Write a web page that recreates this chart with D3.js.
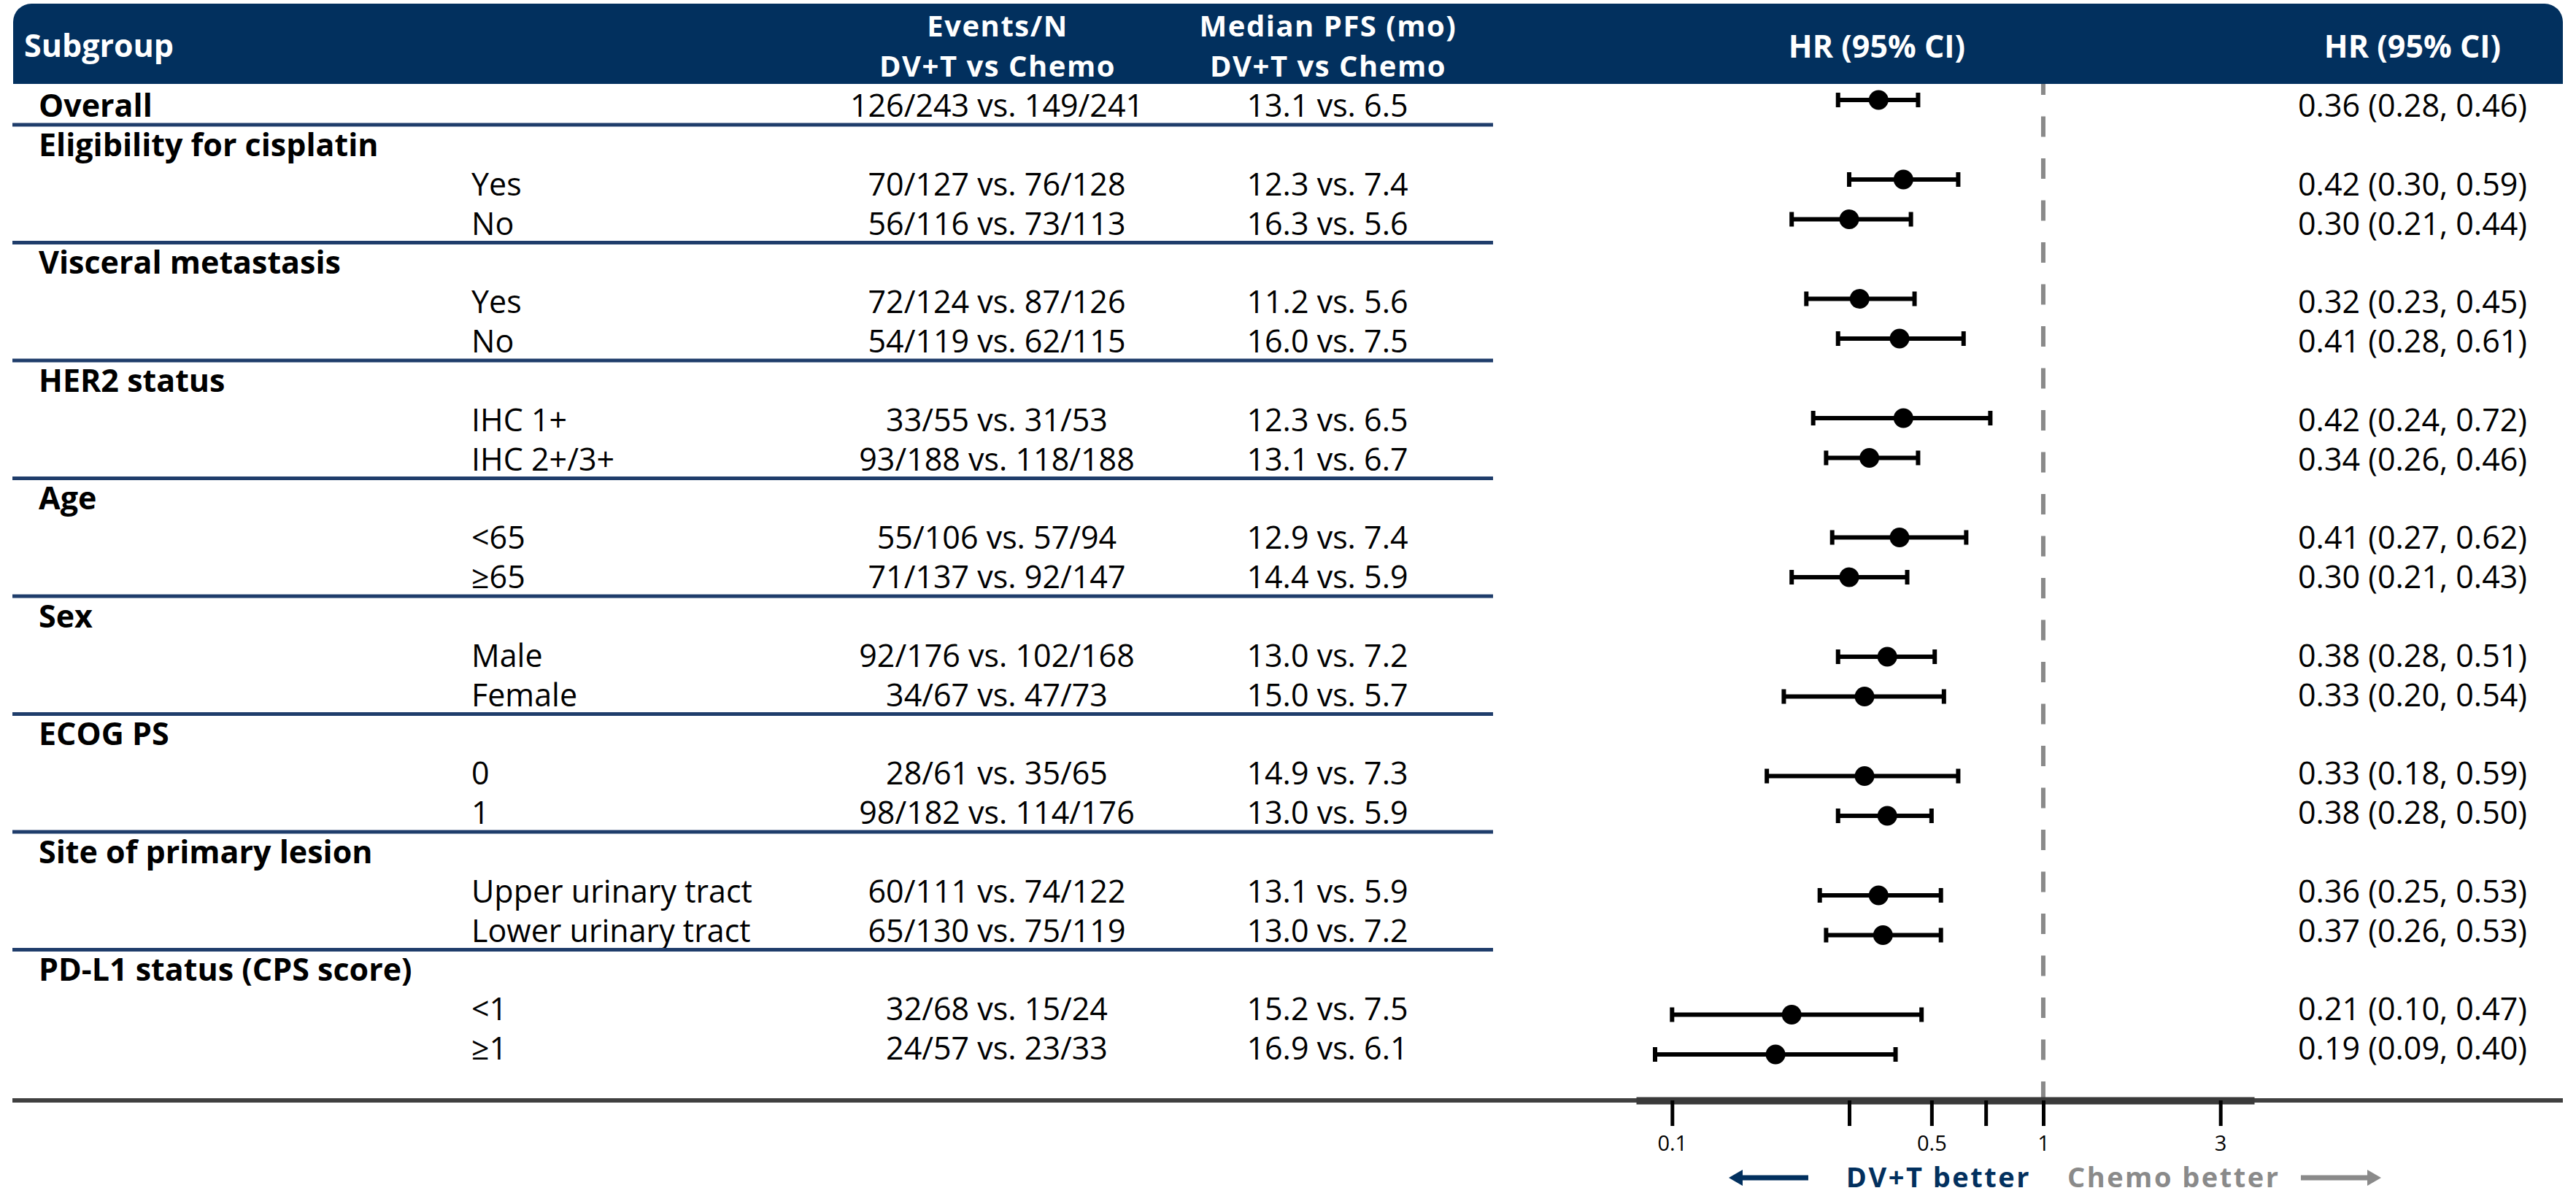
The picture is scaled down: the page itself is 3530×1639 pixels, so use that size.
<!DOCTYPE html>
<html lang="en">
<head>
    <meta charset="UTF-8">
    <title>PFS subgroup forest plot</title>
    <style>
        body {
            margin: 0;
            background: #fff;
        }
        svg text {
            font-family: "Open Sans", "Noto Sans", sans-serif;
        }
        .hdr {
            fill: #fff;
            font-weight: 700;
            font-size: 43px;
        }
        .hdr2 {
            font-size: 40px;
            letter-spacing: 1.5px;
        }
        .cell {
            fill: #000;
            font-size: 43px;
        }
        .grp {
            font-weight: 700;
        }
        .tick text {
            font-size: 29px;
        }
    </style>
</head>
<body>
    <svg id="chart" width="3530" height="1639"></svg>

    <script src="https://d3js.org/d3.v7.min.js"></script>
    <script>
        // rows top to bottom; "g" = group heading, "s" = subgroup
        const labels = ["Overall", "Eligibility for cisplatin", "Yes", "No", "Visceral metastasis", "Yes", "No",
            "HER2 status", "IHC 1+", "IHC 2+/3+", "Age", "<65", "≥65", "Sex", "Male", "Female",
            "ECOG PS", "0", "1", "Site of primary lesion", "Upper urinary tract", "Lower urinary tract",
            "PD-L1 status (CPS score)", "<1", "≥1"];
        const rowType = ["g", "g", "s", "s", "g", "s", "s", "g", "s", "s", "g", "s", "s", "g", "s", "s",
            "g", "s", "s", "g", "s", "s", "g", "s", "s"];
        const events = ["126/243 vs. 149/241", "", "70/127 vs. 76/128", "56/116 vs. 73/113", "",
            "72/124 vs. 87/126", "54/119 vs. 62/115", "", "33/55 vs. 31/53", "93/188 vs. 118/188", "",
            "55/106 vs. 57/94", "71/137 vs. 92/147", "", "92/176 vs. 102/168", "34/67 vs. 47/73", "",
            "28/61 vs. 35/65", "98/182 vs. 114/176", "", "60/111 vs. 74/122", "65/130 vs. 75/119", "",
            "32/68 vs. 15/24", "24/57 vs. 23/33"];
        const medianPFS = ["13.1 vs. 6.5", "", "12.3 vs. 7.4", "16.3 vs. 5.6", "", "11.2 vs. 5.6", "16.0 vs. 7.5", "",
            "12.3 vs. 6.5", "13.1 vs. 6.7", "", "12.9 vs. 7.4", "14.4 vs. 5.9", "", "13.0 vs. 7.2", "15.0 vs. 5.7", "",
            "14.9 vs. 7.3", "13.0 vs. 5.9", "", "13.1 vs. 5.9", "13.0 vs. 7.2", "", "15.2 vs. 7.5", "16.9 vs. 6.1"];
        const hr = [0.36, null, 0.42, 0.30, null, 0.32, 0.41, null, 0.42, 0.34, null, 0.41, 0.30, null, 0.38, 0.33,
            null, 0.33, 0.38, null, 0.36, 0.37, null, 0.21, 0.19];
        const hrLow = [0.28, null, 0.30, 0.21, null, 0.23, 0.28, null, 0.24, 0.26, null, 0.27, 0.21, null, 0.28, 0.20,
            null, 0.18, 0.28, null, 0.25, 0.26, null, 0.10, 0.09];
        const hrHigh = [0.46, null, 0.59, 0.44, null, 0.45, 0.61, null, 0.72, 0.46, null, 0.62, 0.43, null, 0.51, 0.54,
            null, 0.59, 0.50, null, 0.53, 0.53, null, 0.47, 0.40];
        // last row of each block, a rule is drawn under it
        const ruleAfter = [0, 3, 6, 9, 12, 15, 18, 21];
        const tickVals = [0.1, 0.3, 0.5, 0.7, 1, 3];
        const tickLabels = [0.1, 0.5, 1, 3];

        const navy = "#02305e";
        const grey = "#8a8a8a";

        const svg = d3.select("#chart");
        const n = labels.length;
        const rows = d3.range(n);

        const x = d3.scaleLog().domain([0.08, 3.7]).range([2242, 3089]);
        const yBar = d3.scaleLinear().domain([0, n - 1]).range([137, 1445]);
        const yText = d3.scaleLinear().domain([0, n - 1]).range([160, 1452]);
        const axisY = 1508;

        // reference line at HR = 1 (header drawn later covers its top)
        svg.append("line")
            .attr("x1", x(1)).attr("x2", x(1))
            .attr("y1", 102).attr("y2", axisY)
            .attr("stroke", grey)
            .attr("stroke-width", 6)
            .attr("stroke-dasharray", "28 29.5");

        // header band, rounded on top only
        const hdr = svg.append("g");
        hdr.append("rect")
            .attr("x", 18).attr("y", 5).attr("width", 3494).attr("height", 110)
            .attr("rx", 25).attr("fill", navy);
        hdr.append("rect")
            .attr("x", 18).attr("y", 60).attr("width", 3494).attr("height", 55)
            .attr("fill", navy);

        hdr.append("text").attr("class", "hdr").attr("x", 33).attr("y", 78).text("Subgroup");
        [[1367, ["Events/N", "DV+T vs Chemo"]], [1820, ["Median PFS (mo)", "DV+T vs Chemo"]]].forEach(([cx, lines]) => {
            lines.forEach((s, i) => {
                hdr.append("text").attr("class", "hdr hdr2")
                    .attr("x", cx).attr("y", 50 + i * 55)
                    .attr("text-anchor", "middle").text(s);
            });
        });
        [2572, 3306].forEach(cx => {
            hdr.append("text").attr("class", "hdr")
                .attr("x", cx).attr("y", 79)
                .attr("text-anchor", "middle").text("HR (95% CI)");
        });

        // table text
        const body = svg.append("g");
        body.selectAll("text.lab")
            .data(rows)
            .join("text")
            .attr("class", i => "cell lab" + (rowType[i] === "g" ? " grp" : ""))
            .attr("x", i => rowType[i] === "g" ? 53 : 646)
            .attr("y", i => yText(i))
            .text(i => labels[i]);

        body.selectAll("text.ev")
            .data(rows.filter(i => events[i]))
            .join("text")
            .attr("class", "cell ev")
            .attr("x", 1366).attr("y", i => yText(i))
            .attr("text-anchor", "middle")
            .text(i => events[i]);

        body.selectAll("text.pfs")
            .data(rows.filter(i => medianPFS[i]))
            .join("text")
            .attr("class", "cell pfs")
            .attr("x", 1819).attr("y", i => yText(i))
            .attr("text-anchor", "middle")
            .text(i => medianPFS[i]);

        const fmt = d3.format(".2f");
        body.selectAll("text.hrt")
            .data(rows.filter(i => hr[i] != null))
            .join("text")
            .attr("class", "cell hrt")
            .attr("x", 3306).attr("y", i => yText(i))
            .attr("text-anchor", "middle")
            .text(i => `${fmt(hr[i])} (${fmt(hrLow[i])}, ${fmt(hrHigh[i])})`);

        // block rules
        svg.append("g").selectAll("line")
            .data(ruleAfter)
            .join("line")
            .attr("x1", 17).attr("x2", 2046)
            .attr("y1", i => yText(i) + 11).attr("y2", i => yText(i) + 11)
            .attr("stroke", "#1f3d6b")
            .attr("stroke-width", 5);

        // CI bars and points
        const est = rows.filter(i => hr[i] != null);
        const ci = svg.append("g");
        ci.selectAll("line.ci")
            .data(est)
            .join("line")
            .attr("class", "ci")
            .attr("x1", i => x(hrLow[i])).attr("x2", i => x(hrHigh[i]))
            .attr("y1", i => yBar(i)).attr("y2", i => yBar(i))
            .attr("stroke", "#000").attr("stroke-width", 6);
        ["lo", "hi"].forEach(k => {
            ci.selectAll("line.cap-" + k)
                .data(est)
                .join("line")
                .attr("class", "cap-" + k)
                .attr("x1", i => x(k === "lo" ? hrLow[i] : hrHigh[i]))
                .attr("x2", i => x(k === "lo" ? hrLow[i] : hrHigh[i]))
                .attr("y1", i => yBar(i) - 10).attr("y2", i => yBar(i) + 10)
                .attr("stroke", "#000").attr("stroke-width", 6);
        });
        ci.selectAll("circle")
            .data(est)
            .join("circle")
            .attr("cx", i => x(hr[i])).attr("cy", i => yBar(i))
            .attr("r", 13.5)
            .attr("fill", "#000");

        // bottom axis
        svg.append("line")
            .attr("x1", 17).attr("x2", 3512)
            .attr("y1", axisY).attr("y2", axisY)
            .attr("stroke", "#404040").attr("stroke-width", 6);

        const axis = svg.append("g")
            .attr("transform", `translate(0,${axisY})`)
            .call(d3.axisBottom(x)
                .tickValues(tickVals)
                .tickFormat(d => tickLabels.includes(d) ? d : "")
                .tickSize(35)
                .tickSizeOuter(0)
                .tickPadding(13));
        axis.select(".domain").attr("stroke", "#3a3a3a").attr("stroke-width", 10);
        axis.selectAll(".tick line").attr("stroke", "#000").attr("stroke-width", 5);
        axis.selectAll(".tick text").attr("fill", "#000");

        // direction labels with arrows
        const x1 = x(1);
        const dirY = 1627;
        const arrowY = 1614;
        const dir = svg.append("g")
            .attr("font-weight", 700).attr("font-size", 38)
            .attr("letter-spacing", 2.5);
        dir.append("text").attr("x", x1 - 17).attr("y", dirY)
            .attr("text-anchor", "end").attr("fill", navy).text("DV+T better");
        dir.append("text").attr("x", x1 + 33).attr("y", dirY)
            .attr("fill", grey).text("Chemo better");

        dir.append("line")
            .attr("x1", x1 - 322).attr("x2", x1 - 416)
            .attr("y1", arrowY).attr("y2", arrowY)
            .attr("stroke", navy).attr("stroke-width", 7);
        dir.append("path")
            .attr("d", `M${x1 - 431},${arrowY} L${x1 - 412},${arrowY - 11} L${x1 - 412},${arrowY + 11} Z`)
            .attr("fill", navy);
        dir.append("line")
            .attr("x1", x1 + 353).attr("x2", x1 + 448)
            .attr("y1", arrowY).attr("y2", arrowY)
            .attr("stroke", grey).attr("stroke-width", 7);
        dir.append("path")
            .attr("d", `M${x1 + 463},${arrowY} L${x1 + 444},${arrowY - 11} L${x1 + 444},${arrowY + 11} Z`)
            .attr("fill", grey);
    </script>
</body>
</html>
